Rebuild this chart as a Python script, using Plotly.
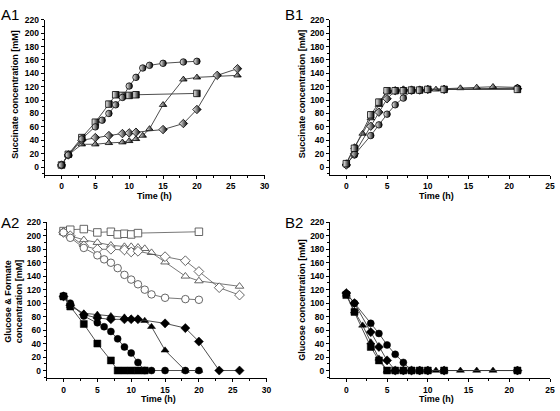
import plotly.graph_objects as go

# ---------------- DATA ----------------
# A1: succinate (half-filled markers)
t_A1_circle = [0, 1, 3, 5, 6, 7, 8, 9, 10, 11, 12, 13, 15, 18, 20]
s_A1_circle = [3, 18, 42, 60, 70, 80, 93, 104, 121, 134, 148, 152, 155, 157, 158]
t_A1_square = [0, 1, 3, 5, 7, 8, 9, 10, 11, 20]
s_A1_square = [3, 19, 44, 67, 94, 108, 107, 107, 108, 110]
t_A1_triangle = [0, 1, 3, 5, 7, 9, 10, 11, 12, 13, 15, 18, 20, 26]
s_A1_triangle = [3, 18, 34, 34, 36, 37, 39, 42, 47, 57, 93, 131, 134, 137]
t_A1_diamond = [0, 1, 3, 5, 7, 9, 10, 11, 15, 18, 20, 23, 26]
s_A1_diamond = [3, 18, 40, 44, 47, 50, 51, 52, 56, 65, 86, 137, 147]

# B1: succinate (half-filled markers)
t_B1_square = [0, 1, 3, 4, 5, 6, 7, 8, 9, 10, 12, 21]
s_B1_square = [5, 28, 78, 97, 114, 114, 114, 115, 115, 116, 116, 116]
t_B1_triangle = [0, 1, 2, 3, 4, 5, 6, 7, 8, 9, 10, 11, 12, 14, 16, 18, 21]
s_B1_triangle = [6, 30, 50, 73, 93, 113, 114, 115, 115, 115, 116, 116, 117, 118, 119, 120, 119]
t_B1_diamond = [0, 1, 3, 4, 5, 6, 7, 8, 9, 10, 12, 21]
s_B1_diamond = [3, 20, 61, 82, 102, 114, 115, 115, 115, 116, 116, 117]
t_B1_circle = [0, 1, 3, 4, 5, 6, 7, 8, 9, 10, 12, 21]
s_B1_circle = [4, 18, 47, 63, 79, 93, 103, 114, 115, 116, 116, 118]

# A2: formate (open markers)
t_A2_square_f = [0, 1, 3, 5, 7, 8, 9, 10, 11, 20]
f_A2_square = [207, 209, 210, 205, 206, 202, 203, 202, 204, 206]
t_A2_circle_f = [0, 1, 3, 5, 6, 7, 8, 9, 10, 11, 12, 13, 15, 18, 20]
f_A2_circle = [205, 197, 182, 171, 165, 160, 152, 142, 135, 128, 120, 113, 108, 106, 105]
t_A2_triangle_f = [0, 1, 3, 5, 7, 9, 10, 11, 12, 13, 15, 18, 20, 26]
f_A2_triangle = [205, 200, 194, 190, 186, 184, 184, 183, 181, 175, 161, 140, 133, 125]
t_A2_diamond_f = [0, 1, 3, 5, 7, 9, 10, 11, 15, 18, 20, 23, 26]
f_A2_diamond = [205, 200, 185, 180, 180, 179, 176, 177, 169, 163, 147, 123, 112]

# A2: glucose (filled markers)
t_A2_square_g = [0, 1, 3, 5, 7, 8, 9, 10, 11, 12]
g_A2_square = [110, 95, 69, 40, 15, 0, 0, 0, 0, 0]
t_A2_circle_g = [0, 1, 3, 5, 6, 7, 8, 9, 10, 11, 12, 13, 15, 18, 20]
g_A2_circle = [111, 100, 81, 71, 65, 58, 47, 35, 26, 12, 0, 0, 0, 0, 0]
t_A2_triangle_g = [0, 1, 3, 5, 7, 9, 10, 11, 12, 13, 15, 18, 20]
g_A2_triangle = [110, 96, 85, 83, 81, 79, 77, 77, 74, 65, 30, 0, 0]
t_A2_diamond_g = [0, 1, 3, 5, 7, 9, 10, 11, 15, 18, 20, 23, 26]
g_A2_diamond = [110, 97, 83, 78, 76, 76, 76, 76, 70, 63, 43, 0, 0]

# B2: glucose (filled markers)
t_B2_circle = [0, 1, 3, 4, 5, 6, 7, 8, 9, 10, 12, 21]
g_B2_circle = [114, 100, 70, 55, 38, 24, 12, 0, 0, 0, 0, 0]
t_B2_diamond = [0, 1, 3, 4, 5, 6, 7, 8, 9, 10, 12, 21]
g_B2_diamond = [115, 100, 57, 35, 15, 0, 0, 0, 0, 0, 0, 0]
t_B2_triangle = [0, 1, 2, 3, 4, 5, 6, 7, 8, 9, 10, 11, 12, 14, 16, 18, 21]
g_B2_triangle = [113, 88, 67, 42, 18, 0, 0, 0, 0, 0, 0, 0, 0, 0, 0, 0, 0]
t_B2_square = [0, 1, 3, 4, 5, 6, 7, 8, 9, 10, 12, 21]
g_B2_square = [112, 87, 35, 15, 0, 0, 0, 0, 0, 0, 0, 0]

# ---------------- FIGURE ----------------
W, H = 560, 411
fig = go.Figure()

LINE_C = "#3a3a3a"


def half(x, y, sym, xa, ya):
    fig.add_trace(go.Scatter(
        x=x, y=y, xaxis=xa, yaxis=ya, mode="lines+markers",
        line=dict(color=LINE_C, width=0.9),
        marker=dict(symbol=sym, size=6.5, color="white",
                    gradient=dict(type="horizontal", color="black"),
                    line=dict(color="black", width=0.8)),
        showlegend=False, hoverinfo="x+y"))


def openm(x, y, sym, xa, ya):
    fig.add_trace(go.Scatter(
        x=x, y=y, xaxis=xa, yaxis=ya, mode="lines+markers",
        line=dict(color="#555555", width=0.8),
        marker=dict(symbol=sym, size=7.5, color="white",
                    line=dict(color="#555555", width=0.9)),
        showlegend=False, hoverinfo="x+y"))


def filled(x, y, sym, xa, ya):
    fig.add_trace(go.Scatter(
        x=x, y=y, xaxis=xa, yaxis=ya, mode="lines+markers",
        line=dict(color=LINE_C, width=0.9),
        marker=dict(symbol=sym, size=7, color="black",
                    line=dict(color="black", width=0.5)),
        showlegend=False, hoverinfo="x+y"))


# A1
half(t_A1_square, s_A1_square, "square", "x", "y")
half(t_A1_triangle, s_A1_triangle, "triangle-up", "x", "y")
half(t_A1_diamond, s_A1_diamond, "diamond", "x", "y")
half(t_A1_circle, s_A1_circle, "circle", "x", "y")
# B1
half(t_B1_circle, s_B1_circle, "circle", "x2", "y2")
half(t_B1_diamond, s_B1_diamond, "diamond", "x2", "y2")
half(t_B1_triangle, s_B1_triangle, "triangle-up", "x2", "y2")
half(t_B1_square, s_B1_square, "square", "x2", "y2")
# A2
openm(t_A2_square_f, f_A2_square, "square", "x3", "y3")
openm(t_A2_triangle_f, f_A2_triangle, "triangle-up", "x3", "y3")
openm(t_A2_diamond_f, f_A2_diamond, "diamond", "x3", "y3")
openm(t_A2_circle_f, f_A2_circle, "circle", "x3", "y3")
filled(t_A2_square_g, g_A2_square, "square", "x3", "y3")
filled(t_A2_circle_g, g_A2_circle, "circle", "x3", "y3")
filled(t_A2_triangle_g, g_A2_triangle, "triangle-up", "x3", "y3")
filled(t_A2_diamond_g, g_A2_diamond, "diamond", "x3", "y3")
# B2
filled(t_B2_triangle, g_B2_triangle, "triangle-up", "x4", "y4")
filled(t_B2_square, g_B2_square, "square", "x4", "y4")
filled(t_B2_diamond, g_B2_diamond, "diamond", "x4", "y4")
filled(t_B2_circle, g_B2_circle, "circle", "x4", "y4")


def px_x(a, b):
    return [a / W, b / W]


def px_y(top, bottom):
    return [1 - bottom / H, 1 - top / H]


TICKF = dict(family="Liberation Sans, Arial, sans-serif", size=8.5, color="black", weight="bold")


def xax(dom, rng, anchor):
    return dict(domain=dom, range=rng, anchor=anchor, showgrid=False, zeroline=False,
                showline=True, linecolor="black", linewidth=1, ticks="outside",
                ticklen=3, tickwidth=1, tickcolor="black", dtick=5, tick0=0,
                tickfont=TICKF,
                minor=dict(ticks="outside", ticklen=2, dtick=2.5, tick0=0, tickcolor="black"))


def yax(dom, rng, anchor):
    return dict(domain=dom, range=rng, anchor=anchor, showgrid=False, zeroline=False,
                showline=True, linecolor="black", linewidth=1, ticks="outside",
                ticklen=3, tickwidth=1, tickcolor="black", dtick=20, tick0=0,
                tickfont=TICKF,
                minor=dict(ticks="outside", ticklen=2, dtick=10, tick0=0, tickcolor="black"))


# top row: 220 at y=15px, 0 at 164px, axis line at 172px
# bottom row: 220 at y=220px, 0 at 370px, axis line at 378px
TOP = (15, 172)
BOT = (220, 378)
fig.update_layout(
    width=W, height=H, margin=dict(l=0, r=0, t=0, b=0),
    paper_bgcolor="white", plot_bgcolor="white",
    xaxis=xax(px_x(45, 267), [-2.5, 30], "y"),
    yaxis=yax(px_y(*TOP), [-11.8, 220], "x"),
    xaxis2=xax(px_x(333, 555), [-2, 25], "y2"),
    yaxis2=yax(px_y(*TOP), [-11.8, 220], "x2"),
    xaxis3=xax(px_x(47, 269), [-2.5, 30], "y3"),
    yaxis3=yax(px_y(*BOT), [-11.7, 220], "x3"),
    xaxis4=xax(px_x(333, 555), [-2, 25], "y4"),
    yaxis4=yax(px_y(*BOT), [-11.7, 220], "x4"),
)

TITLEF = dict(family="Liberation Sans, Arial, sans-serif", size=9, color="black", weight="bold")
PANELF = dict(family="Liberation Sans, Arial, sans-serif", size=15, color="black")

ann = []


def a(text, xp, yp, font, angle=0):
    ann.append(dict(text=text, x=xp / W, y=1 - yp / H, xref="paper", yref="paper",
                    showarrow=False, font=font, textangle=angle,
                    xanchor="center", yanchor="middle"))


a("Time (h)", 156, 193, TITLEF)
a("Time (h)", 440, 193, TITLEF)
a("Time (h)", 160, 399, TITLEF)
a("Time (h)", 440, 399, TITLEF)
a("Succinate concentration [mM]", 15, 90, TITLEF, -90)
a("Succinate concentration [mM]", 305, 90, TITLEF, -90)
a("Glucose & Formate<br>concentration [mM]", 14, 300, TITLEF, -90)
a("Glucose concentration [mM]", 305, 298, TITLEF, -90)
a("A1", 10, 10, PANELF)
a("B1", 297, 10, PANELF)
a("A2", 10, 220, PANELF)
a("B2", 297, 220, PANELF)
fig.update_layout(annotations=ann)

fig.write_html("out.html", config={"displayModeBar": False},
               post_script="document.body.style.margin='0';")
